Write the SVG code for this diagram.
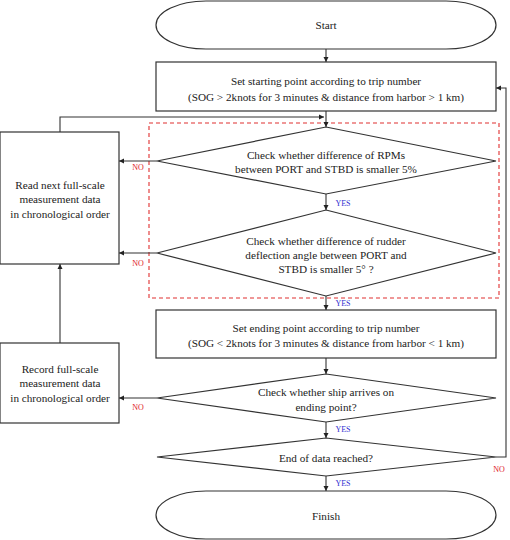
<svg xmlns="http://www.w3.org/2000/svg" width="510" height="540" viewBox="0 0 510 540">
<defs>
<marker id="ah" markerWidth="6" markerHeight="6" refX="5" refY="3" orient="auto" markerUnits="userSpaceOnUse">
<path d="M0,0.5 L5,3 L0,5.5 Z" fill="#222"/>
</marker>
<style>
.s{fill:#fff;stroke:#333;stroke-width:1.2}
.t{font-family:"Liberation Serif","Times New Roman",serif;font-size:11.2px;fill:#222;text-anchor:middle}
.c{fill:none;stroke:#333;stroke-width:1.1;marker-end:url(#ah)}
.no{font-family:"Liberation Serif","Times New Roman",serif;font-size:8px;fill:#e0202a;text-anchor:middle}
.yes{font-family:"Liberation Serif","Times New Roman",serif;font-size:8px;fill:#3030d0;text-anchor:middle}
</style>
</defs>
<rect width="510" height="540" fill="#fff"/>
<rect x="149" y="123" width="350" height="175" fill="none" stroke="#e03030" stroke-width="1.1" stroke-dasharray="4,3"/>
<g id="connectors">
<line class="c" x1="326" y1="49" x2="326" y2="62"/>
<line class="c" x1="326" y1="111" x2="326" y2="127"/>
<polyline class="c" points="60,132 60,117 324,117"/>
<line class="c" x1="157" y1="161" x2="119" y2="161"/>
<line class="c" x1="326" y1="194" x2="326" y2="210"/>
<line class="c" x1="157" y1="253" x2="119" y2="253"/>
<line class="c" x1="326" y1="296" x2="326" y2="310"/>
<line class="c" x1="60" y1="343" x2="60" y2="264"/>
<line class="c" x1="326" y1="358" x2="326" y2="374"/>
<line class="c" x1="157" y1="398" x2="119" y2="398"/>
<line class="c" x1="326" y1="422" x2="326" y2="438"/>
<polyline class="c" points="496,457 506,457 506,88 496,88"/>
<line class="c" x1="326" y1="476" x2="326" y2="491"/>
<text class="no" x="138" y="170">NO</text>
<text class="yes" x="343" y="206">YES</text>
<text class="no" x="138" y="266">NO</text>
<text class="yes" x="343" y="306">YES</text>
<text class="no" x="138" y="410">NO</text>
<text class="yes" x="343" y="432">YES</text>
<text class="no" x="499" y="472">NO</text>
<text class="yes" x="343" y="486">YES</text>
</g>
<g id="start">
<rect class="s" x="156" y="1" width="340" height="48" rx="50" ry="24"/>
<text class="t" x="326" y="29">Start</text>
</g>
<g id="set-start">
<rect class="s" x="156" y="62" width="340" height="49"/>
<text class="t" x="326" y="85">Set starting point according to trip number</text>
<text class="t" x="326" y="101">(SOG &gt; 2knots for 3 minutes &amp; distance from harbor &gt; 1 km)</text>
</g>
<g id="check-rpm">
<polygon class="s" points="326,127 496,161 326,194 157,161"/>
<text class="t" x="326" y="159">Check whether difference of RPMs</text>
<text class="t" x="326" y="173">between PORT and STBD is smaller 5%</text>
</g>
<g id="check-rudder">
<polygon class="s" points="326,210 496,253 326,296 157,253"/>
<text class="t" x="326" y="245">Check whether difference of rudder</text>
<text class="t" x="326" y="259">deflection angle between PORT and</text>
<text class="t" x="326" y="273">STBD is smaller 5° ?</text>
</g>
<g id="read-next">
<rect class="s" x="0" y="132" width="119" height="132"/>
<text class="t" x="60" y="189">Read next full-scale</text>
<text class="t" x="60" y="203">measurement data</text>
<text class="t" x="60" y="218">in chronological order</text>
</g>
<g id="set-end">
<rect class="s" x="156" y="310" width="340" height="48"/>
<text class="t" x="326" y="332">Set ending point according to trip number</text>
<text class="t" x="326" y="347">(SOG &lt; 2knots for 3 minutes &amp; distance from harbor &lt; 1 km)</text>
</g>
<g id="record">
<rect class="s" x="0" y="343" width="119" height="80"/>
<text class="t" x="60" y="373">Record full-scale</text>
<text class="t" x="60" y="387">measurement data</text>
<text class="t" x="60" y="402">in chronological order</text>
</g>
<g id="check-arrive">
<polygon class="s" points="326,374 496,398 326,422 157,398"/>
<text class="t" x="326" y="396">Check whether ship arrives on</text>
<text class="t" x="326" y="411">ending point?</text>
</g>
<g id="end-data">
<polygon class="s" points="326,438 496,457 326,476 157,457"/>
<text class="t" x="326" y="462">End of data reached?</text>
</g>
<g id="finish">
<rect class="s" x="156" y="491" width="340" height="48" rx="50" ry="24"/>
<text class="t" x="326" y="520">Finish</text>
</g>
</svg>
